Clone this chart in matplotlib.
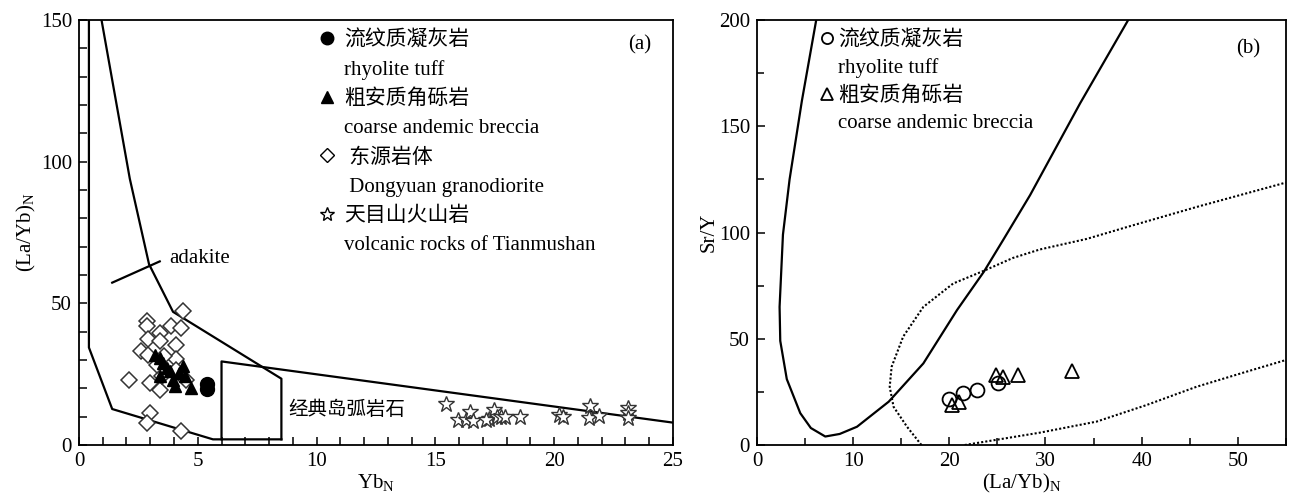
import numpy as np
import matplotlib
matplotlib.use('Agg')
import matplotlib.pyplot as plt
from matplotlib.lines import Line2D
from matplotlib.font_manager import FontProperties

plt.rcParams['font.family'] = ['Liberation Serif', 'Noto Sans CJK SC']
plt.rcParams['mathtext.fontset'] = 'custom'
plt.rcParams['mathtext.rm'] = 'Liberation Serif'
plt.rcParams['font.size'] = 15

# ---- panel (a): Yb_N vs (La/Yb)_N ----
dy_x = [4.36, 2.87, 2.87, 3.89, 4.31, 3.43, 2.90, 3.40, 4.10, 2.63, 2.90, 4.10,
        3.60, 2.10, 3.00, 3.40, 3.50, 3.00, 2.87, 4.30, 3.27, 4.10, 4.52]
dy_y = [47.3, 43.7, 42.0, 42.0, 41.3, 39.6, 37.5, 36.6, 35.4, 33.1, 31.6, 30.2,
        31.3, 23.0, 21.9, 19.5, 24.3, 11.2, 7.6, 4.9, 28.4, 26.6, 23.0]

tri_a_x = [4.03, 4.73, 3.97, 4.20, 4.48, 3.40, 3.55, 3.70, 3.20, 4.40, 3.40, 3.83]
tri_a_y = [20.7, 20.1, 23.0, 25.4, 24.2, 30.7, 28.9, 27.1, 31.9, 27.8, 24.4, 26.0]

circ_a_x = [5.39, 5.39]
circ_a_y = [19.6, 21.6]

star_x = [15.45, 15.94, 16.29, 16.46, 16.60, 17.27, 17.47, 17.60, 17.76, 17.94,
          18.55, 20.20, 20.35, 21.50, 21.47, 21.90, 23.12, 23.12, 23.12, 17.13]
star_y = [14.5, 8.9, 8.9, 11.6, 8.6, 9.1, 12.2, 10.0, 10.0, 9.8,
          9.8, 10.6, 9.8, 13.8, 9.4, 10.3, 12.9, 11.2, 9.5, 8.9]

# field boundaries of panel (a)
low_x = [0.42, 0.42, 1.40, 5.64, 8.52]
low_y = [150, 34.4, 12.7, 2.0, 2.0]
up_x = [0.95, 2.14, 2.95, 3.96, 8.52, 8.52]
up_y = [150, 94.0, 63.8, 47.0, 23.4, 2.0]
box_x = [6.0, 6.0, 25.0]
box_y = [2.0, 29.5, 7.9]
tick_x = [1.40, 3.40]
tick_y = [57.3, 64.8]

# ---- panel (b): (La/Yb)_N vs Sr/Y ----
circ_b_x = [19.98, 21.46, 22.90, 25.05]
circ_b_y = [21.5, 24.6, 25.9, 29.0]
tri_b_x = [20.3, 21.05, 24.9, 25.6, 27.15, 32.8]
tri_b_y = [18.8, 20.4, 32.9, 31.8, 33.1, 35.0]

ad_x = [6.16, 4.67, 3.39, 2.70, 2.35, 2.42, 3.10, 4.50, 5.60, 7.10, 8.60,
        10.4, 13.7, 17.3, 20.8, 23.6, 25.6, 28.4, 33.6, 38.6]
ad_y = [200, 162, 125, 99, 65, 49, 31, 15, 8.0, 4.0, 5.2,
        8.6, 20.4, 38.4, 63.5, 81.6, 96.5, 117.6, 160.8, 200]
arc_x = [17.1, 15.6, 14.2, 13.8, 14.0, 15.2, 17.3, 20.4, 23.6, 26.6, 29.4,
         34.3, 38.8, 45.7, 55.0]
arc_y = [0, 8.6, 18.0, 27.4, 36.8, 51.0, 65.0, 76.0, 82.0, 88.0, 92.0,
         97.0, 103.0, 112.0, 123.5]
arc_low_x = [21.6, 29.4, 35.3, 40.5, 45.7, 50.9, 55.0]
arc_low_y = [0, 5.8, 11.0, 18.8, 27.4, 34.5, 40.0]

fig = plt.figure(figsize=(12.92, 4.96), dpi=100)
ax1 = fig.add_axes([0.0611, 0.1028, 0.4598, 0.8569])
ax2 = fig.add_axes([0.5859, 0.1028, 0.4094, 0.8569])

lw = 1.6
for ax in (ax1, ax2):
    for s in ax.spines.values():
        s.set_linewidth(1.3)
    ax.tick_params(direction='in', which='both', top=False, right=False,
                   labelsize=15, width=1.1, pad=5)
    ax.tick_params(which='major', length=6)
    ax.tick_params(which='minor', length=5)

# panel (a)
ax1.plot(low_x, low_y, 'k-', lw=lw)
ax1.plot(up_x, up_y, 'k-', lw=lw)
ax1.plot(box_x, box_y, 'k-', lw=lw)
ax1.plot(tick_x, tick_y, 'k-', lw=lw)

ax1.plot(dy_x, dy_y, 'D', ms=8, mfc='white', mec='#333333', mew=1.1, ls='none')
ax1.plot(tri_a_x, tri_a_y, '^', ms=9, color='black', ls='none')
ax1.plot(circ_a_x, circ_a_y, 'o', ms=10, color='black', ls='none')
ax1.plot(star_x, star_y, '*', ms=12, mfc='white', mec='#333333', mew=1.0, ls='none')

ax1.text(3.8, 66, 'adakite', ha='left', va='center', fontsize=15)
ax1.text(8.8, 12.4, '经典岛弧岩石', ha='left', va='center', fontsize=14)
ax1.text(0.944, 0.941, '(a)', transform=ax1.transAxes, ha='center', va='center', fontsize=15)

ax1.set_xlim(0, 25)
ax1.set_ylim(0, 150)
ax1.set_xticks([0, 5, 10, 15, 20, 25])
ax1.set_xticks(np.arange(0, 26, 1), minor=True)
ax1.set_yticks([0, 50, 100, 150])
ax1.set_yticks(np.arange(0, 151, 10), minor=True)
ax1.tick_params(which='minor', length=6)
ax1.set_xlabel(r'Yb$_{\rm N}$', fontsize=15, labelpad=1)
ax1.set_ylabel(r'(La/Yb)$_{\rm N}$', fontsize=15, labelpad=2)

blank = Line2D([], [], ls='none', marker=None)
h_a = [Line2D([], [], ls='none', marker='o', color='black', ms=9), blank,
       Line2D([], [], ls='none', marker='^', color='black', ms=9), blank,
       Line2D([], [], ls='none', marker='D', mfc='white', mec='black', ms=7), blank,
       Line2D([], [], ls='none', marker='*', mfc='white', mec='black', ms=10), blank]
l_a = ['流纹质凝灰岩', 'rhyolite tuff', '粗安质角砾岩', 'coarse andemic breccia',
       ' 东源岩体', ' Dongyuan granodiorite', '天目山火山岩', 'volcanic rocks of Tianmushan']
fp = FontProperties(family=['Liberation Serif', 'Noto Sans CJK SC'], size=15)
ax1.legend(h_a, l_a, loc='upper left', bbox_to_anchor=(0.382, 1.005), frameon=False,
           prop=fp, handlelength=0.85, handletextpad=0.4, labelspacing=0.46,
           borderaxespad=0.2)

# panel (b)
ax2.plot(ad_x, ad_y, 'k-', lw=lw)
ax2.plot(arc_x, arc_y, 'k', ls=(0, (1, 1)), lw=1.5)
ax2.plot(arc_low_x, arc_low_y, 'k', ls=(0, (1, 1)), lw=1.5)
ax2.plot(circ_b_x, circ_b_y, 'o', ms=10, mfc='none', mec='black', mew=1.3, ls='none')
ax2.plot(tri_b_x, tri_b_y, '^', ms=10, mfc='none', mec='black', mew=1.3, ls='none')

ax2.text(0.929, 0.933, '(b)', transform=ax2.transAxes, ha='center', va='center', fontsize=15)

ax2.set_xlim(0, 55)
ax2.set_ylim(0, 200)
ax2.set_xticks([0, 10, 20, 30, 40, 50])
ax2.set_xticks(np.arange(0, 56, 5), minor=True)
ax2.set_yticks([0, 50, 100, 150, 200])
ax2.set_yticks(np.arange(0, 201, 25), minor=True)
ax2.set_xlabel(r'(La/Yb)$_{\rm N}$', fontsize=15, labelpad=1)
ax2.set_ylabel('Sr/Y', fontsize=15, labelpad=0)

h_b = [Line2D([], [], ls='none', marker='o', mfc='none', mec='black', ms=8, mew=1.3), blank,
       Line2D([], [], ls='none', marker='^', mfc='none', mec='black', ms=8, mew=1.3), blank]
l_b = ['流纹质凝灰岩', 'rhyolite tuff', '粗安质角砾岩', 'coarse andemic breccia']
ax2.legend(h_b, l_b, loc='upper left', bbox_to_anchor=(0.092, 1.005), frameon=False,
           prop=fp, handlelength=0.85, handletextpad=0.12, labelspacing=0.38,
           borderaxespad=0.2)

fig.savefig('out.png', dpi=100)
